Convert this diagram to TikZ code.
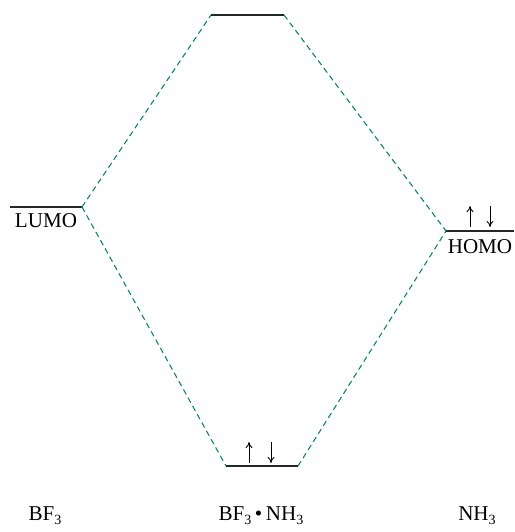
\documentclass[tikz,border=0pt]{standalone}
\usepackage{fontspec}
\setmainfont{Liberation Serif}
\usetikzlibrary{arrows.meta}
\newcommand{\subn}[1]{\raisebox{-0.5ex}{\footnotesize #1}}
\definecolor{bondgreen}{RGB}{0,133,100}
\begin{document}
\begin{tikzpicture}[x=0.02cm, y=-0.02cm, every node/.style={font=\fontsize{12}{14}\selectfont},
  level/.style={line width=1.3pt, black!85},
  corr/.style={bondgreen, line width=0.6pt, dash pattern=on 3.2pt off 2.2pt},
  spin/.style={line width=0.5pt, -{To[length=3.5pt,width=4pt]}},
  lab/.style={anchor=base, inner sep=0pt}]
\useasboundingbox (0,0) rectangle (515,532);
% energy levels
\coordinate (topL) at (211,15);   \coordinate (topR) at (284,15);
\coordinate (lumoL) at (10,207);  \coordinate (lumoR) at (82,207);
\coordinate (homoL) at (446,231); \coordinate (homoR) at (514,231);
\coordinate (botL) at (226,466);  \coordinate (botR) at (298,466);
\draw[level] (topL) -- (topR);
\draw[level] (lumoL) -- (lumoR);
\draw[level] (homoL) -- (homoR);
\draw[level] (botL) -- (botR);
% correlation lines
\draw[corr] (lumoR) -- (topL);
\draw[corr] (lumoR) -- (botL);
\draw[corr] (topR) -- (homoL);
\draw[corr] (botR) -- (homoL);
% electrons
\draw[spin] (470,227) -- (470,206);
\draw[spin] (490,206) -- (490,227);
\draw[spin] (249,463) -- (249,442);
\draw[spin] (271,442) -- (271,463);
% labels
\node[lab] (lumo) at (46,227) {LUMO};
\node[lab] (homo) at (480,253) {HOMO};
\node[lab] (bf) at (45,520) {BF\subn{3}};
\node[lab] (adduct) at (261,520) {BF\subn{3}\,\textbullet\,NH\subn{3}};
\node[lab] (nh) at (477,520) {NH\subn{3}};
\end{tikzpicture}
\end{document}
